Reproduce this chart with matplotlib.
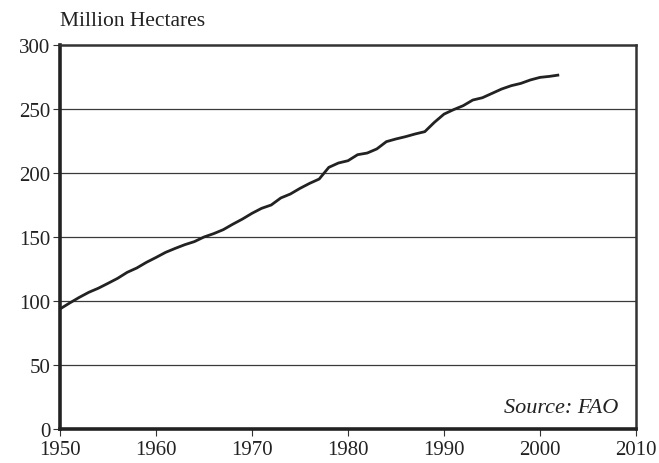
import numpy as np
import matplotlib
matplotlib.use('agg')
import matplotlib.pyplot as plt

## data
years = list(range(1950, 2003))
hectares = [93.8, 98.4, 102.8, 106.8, 110.0, 113.8, 117.7, 122.4, 125.8, 130.2,
            134.0, 138.0, 141.1, 144.0, 146.4, 150.0, 152.6, 155.7, 160.0, 164.0,
            168.5, 172.4, 175.0, 180.5, 183.6, 188.0, 191.9, 195.3, 204.4, 207.8,
            209.6, 214.3, 215.6, 218.8, 224.5, 226.6, 228.4, 230.5, 232.3, 239.6,
            246.0, 249.5, 252.6, 257.0, 258.8, 262.2, 265.6, 268.2, 270.0, 272.7,
            274.7, 275.5, 276.6]
x_ticks = [1950, 1960, 1970, 1980, 1990, 2000, 2010]
y_ticks = [0, 50, 100, 150, 200, 250, 300]

plt.rcParams['font.family'] = ['Liberation Serif', 'DejaVu Serif']

fig = plt.figure(figsize=(6.59, 4.64), dpi=100)
ax = fig.add_axes([60/659, 1 - 430/464, 576/659, 384/464])

for yv in y_ticks[1:-1]:
    ax.axhline(yv, color='#3a3a3a', lw=0.9, zorder=1)

ax.plot(years, hectares, color='#222222', lw=2.0, solid_capstyle='butt', zorder=3)

ax.set_xlim(1950, 2010)
ax.set_ylim(0, 300)
ax.set_xticks(x_ticks)
ax.set_yticks(y_ticks)
ax.tick_params(axis='both', direction='out', length=5, width=0.8, color='#333333',
               labelsize=15, pad=2, labelcolor='#222222')
ax.tick_params(axis='x', pad=3)

for side in ['left', 'bottom']:
    ax.spines[side].set_linewidth(2.6)
    ax.spines[side].set_color('#222222')
for side in ['top', 'right']:
    ax.spines[side].set_linewidth(1.8)
    ax.spines[side].set_color('#333333')

fig.text(60/659, 1 - 22/464, 'Million Hectares', fontsize=15.5, color='#222222',
         ha='left', va='center')
ax.text(0.97, 0.03, 'Source: FAO', transform=ax.transAxes, fontsize=16,
        style='italic', color='#222222', ha='right', va='bottom')

fig.savefig('out.png', dpi=100)
